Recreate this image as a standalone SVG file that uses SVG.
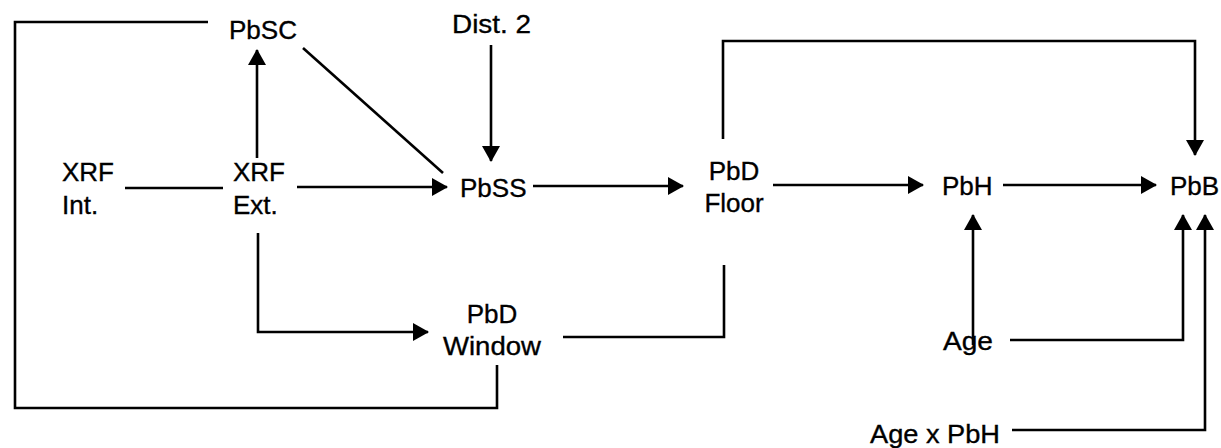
<svg xmlns="http://www.w3.org/2000/svg" width="1221" height="448" viewBox="0 0 1221 448">
<style>
text{font-family:"Liberation Sans",Arial,sans-serif;font-size:26px;fill:#000;stroke:#000;stroke-width:0.35}
.c{text-anchor:middle}
.e{fill:none;stroke:#000;stroke-width:2.6}
.a{marker-end:url(#ah)}
</style>
<defs>
<marker id="ah" markerUnits="userSpaceOnUse" markerWidth="16" markerHeight="18" refX="15" refY="9" orient="auto">
<path d="M0,0 L16,9 L0,18 Z" fill="#000"/>
</marker>
</defs>
<rect width="1221" height="448" fill="#fff"/>
<g id="connectors">
<polyline class="e" points="208,22 15,22 15,408 497,408 497,365"/>
<line class="e" x1="125" y1="188" x2="223" y2="188"/>
<line class="e a" x1="257" y1="158" x2="257" y2="50"/>
<line class="e a" x1="297" y1="187" x2="447" y2="187"/>
<line class="e" x1="303" y1="48" x2="443" y2="173"/>
<line class="e a" x1="491" y1="45" x2="491" y2="161"/>
<line class="e a" x1="533" y1="186" x2="683" y2="186"/>
<polyline class="e a" points="258,233 258,332 428,332"/>
<polyline class="e" points="563,337 724,337 724,265"/>
<polyline class="e a" points="723,139 723,41 1195,41 1195,155"/>
<line class="e a" x1="773" y1="185" x2="923" y2="185"/>
<line class="e a" x1="1003" y1="185" x2="1156" y2="185"/>
<line class="e a" x1="973" y1="345" x2="973" y2="215"/>
<polyline class="e a" points="1010,340 1183,340 1183,215"/>
<polyline class="e a" points="1012,430 1205,430 1205,215"/>
</g>
<g id="node-pbsc"><text x="229" y="39" textLength="68" lengthAdjust="spacingAndGlyphs">PbSC</text></g>
<g id="node-dist2"><text x="452" y="33" textLength="79" lengthAdjust="spacingAndGlyphs">Dist. 2</text></g>
<g id="node-xrf-int"><text x="62" y="181">XRF</text><text x="62" y="214">Int.</text></g>
<g id="node-xrf-ext"><text x="233" y="181">XRF</text><text x="233" y="214">Ext.</text></g>
<g id="node-pbss"><text x="460" y="197">PbSS</text></g>
<g id="node-pbd-floor"><text class="c" x="734" y="180">PbD</text><text class="c" x="734" y="212">Floor</text></g>
<g id="node-pbd-window"><text class="c" x="492" y="323">PbD</text><text class="c" x="492" y="355" textLength="98" lengthAdjust="spacingAndGlyphs">Window</text></g>
<g id="node-pbh"><text x="942" y="195">PbH</text></g>
<g id="node-pbb"><text x="1170" y="195">PbB</text></g>
<g id="node-age"><text x="943" y="350" textLength="50" lengthAdjust="spacingAndGlyphs">Age</text></g>
<g id="node-age-x-pbh"><text x="870" y="443" textLength="130" lengthAdjust="spacingAndGlyphs">Age x PbH</text></g>
</svg>
